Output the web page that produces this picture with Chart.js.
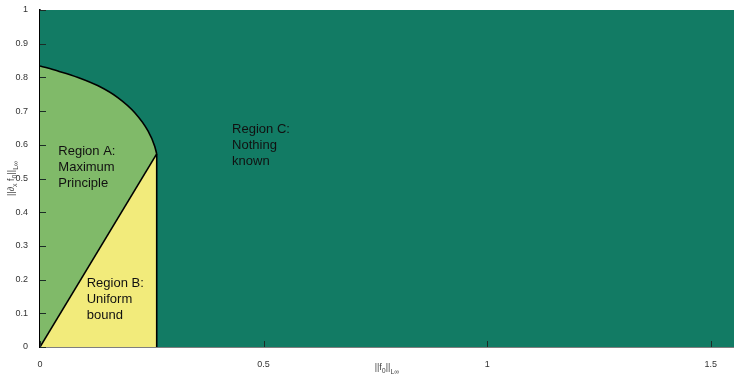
<!DOCTYPE html>
<html>
<head>
<meta charset="utf-8">
<script src="https://cdn.jsdelivr.net/npm/chart.js@4.4.1/dist/chart.umd.min.js"></script>
<style>
  html, body { margin: 0; padding: 0; background: #fff; }
  #wrap { width: 734px; height: 374px; }
</style>
</head>
<body>
<div id="wrap"><canvas id="regions"></canvas></div>
<script>
// axis limits
const xMax = 1.552;
const yMax = 1;

// region A upper boundary (maximum principle curve)
const curveX = [0, 0.04, 0.085, 0.13, 0.174, 0.212, 0.2415, 0.2565, 0.261];
const curveY = [0.834, 0.819, 0.80, 0.775, 0.74, 0.695, 0.641, 0.596, 0.573];

// region B upper boundary (uniform bound line)
const lineX = [0, 0.261];
const lineY = [0, 0.573];

// vertical edge of region B
const edgeX = [0.261, 0.261];
const edgeY = [0, 0.573];

const xTicks = [0, 0.5, 1, 1.5];
const yTicks = [0, 0.1, 0.2, 0.3, 0.4, 0.5, 0.6, 0.7, 0.8, 0.9, 1];

const regionLabels = [
    { x: 0.041, y: 0.569, lines: ['Region A:', 'Maximum', 'Principle'] },
    { x: 0.1045, y: 0.179, lines: ['Region B:', 'Uniform', 'bound'] },
    { x: 0.4296, y: 0.635, lines: ['Region C:', 'Nothing', 'known'] }
];

const toPts = (xs, ys) => xs.map((x, i) => ({ x: x, y: ys[i] }));

// text with subscripts: parts = [[text, shift]]
function drawParts(ctx, parts, x, y, size) {
    let w = 0;
    parts.forEach(p => {
        ctx.font = (p[1] ? size - 2 : size) + 'px "Liberation Sans", Arial, sans-serif';
        w += ctx.measureText(p[0]).width;
    });
    let cx = x - w / 2;
    parts.forEach(p => {
        ctx.font = (p[1] ? size - 2 : size) + 'px "Liberation Sans", Arial, sans-serif';
        ctx.fillText(p[0], cx, y + p[1]);
        cx += ctx.measureText(p[0]).width;
    });
}

const extras = {
    id: 'extras',
    afterDraw(chart) {
        const ctx = chart.ctx;
        const xs = chart.scales.x, ys = chart.scales.y;
        const area = chart.chartArea;
        ctx.save();

        // inside tick marks
        ctx.strokeStyle = '#1c2b26';
        ctx.lineWidth = 1;
        ctx.beginPath();
        yTicks.forEach(t => {
            const py = Math.round(ys.getPixelForValue(t)) + 0.5;
            ctx.moveTo(area.left, py);
            ctx.lineTo(area.left + 6, py);
        });
        xTicks.forEach(t => {
            const px = Math.round(xs.getPixelForValue(t)) + 0.5;
            ctx.moveTo(px, area.bottom);
            ctx.lineTo(px, area.bottom - 6);
        });
        ctx.stroke();

        // region labels
        ctx.fillStyle = '#111';
        ctx.textBaseline = 'alphabetic';
        ctx.textAlign = 'left';
        ctx.font = '13px "Liberation Sans", Arial, sans-serif';
        regionLabels.forEach(r => {
            const px = xs.getPixelForValue(r.x);
            const py = ys.getPixelForValue(r.y);
            r.lines.forEach((s, i) => ctx.fillText(s, px, py + i * 16));
        });

        // axis titles
        ctx.fillStyle = '#444';
        drawParts(ctx, [['||f', 0], ['0', 3], ['||', 0], ['L\u221E', 4]], (area.left + area.right) / 2, 370, 9);
        ctx.translate(14, (area.top + area.bottom) / 2);
        ctx.rotate(-Math.PI / 2);
        drawParts(ctx, [['||\u2202', 0], ['x', 3], [' f', 0], ['0', 3], ['||', 0], ['L\u221E', 4]], 0, 0, 9);
        ctx.restore();
    }
};

new Chart(document.getElementById('regions'), {
    type: 'scatter',
    data: {
        datasets: [{
            // region C: everything
            data: [{ x: 0, y: yMax }, { x: xMax, y: yMax }],
            order: 4,
            showLine: true,
            borderWidth: 0,
            backgroundColor: '#127b64',
            fill: 'origin',
            pointRadius: 0
        }, {
            data: toPts(curveX, curveY),
            order: 3,
            showLine: true,
            cubicInterpolationMode: 'monotone',
            borderColor: '#000',
            borderWidth: 1.6,
            backgroundColor: '#80ba69',
            fill: 'origin',
            pointRadius: 0
        }, {
            data: toPts(lineX, lineY),
            order: 2,
            showLine: true,
            borderColor: '#000',
            borderWidth: 1.6,
            backgroundColor: '#f2eb7b',
            fill: 'origin',
            pointRadius: 0
        }, {
            data: toPts(edgeX, edgeY),
            order: 1,
            showLine: true,
            borderColor: '#000',
            borderWidth: 1.6,
            fill: false,
            pointRadius: 0
        }]
    },
    options: {
        responsive: true,
        maintainAspectRatio: false,
        animation: false,
        layout: { padding: { top: 10, right: 0, left: 0, bottom: 0 } },
        plugins: {
            legend: { display: false },
            tooltip: { enabled: false }
        },
        scales: {
            x: {
                type: 'linear',
                min: 0,
                max: xMax,
                z: 1,
                afterFit: s => { s.height = 27; },
                afterBuildTicks: s => { s.ticks = xTicks.map(v => ({ value: v })); },
                grid: { display: false },
                border: { display: true, color: '#000', width: 1.6 },
                ticks: {
                    padding: 4,
                    color: '#333',
                    callback: v => String(v),
                    font: { size: 9, family: '"Liberation Sans", Arial, sans-serif' }
                }
            },
            y: {
                min: 0,
                max: yMax,
                z: 1,
                afterFit: s => { s.width = 40; },
                afterBuildTicks: s => { s.ticks = yTicks.map(v => ({ value: v })); },
                grid: { display: false },
                border: { display: true, color: '#000', width: 1.6 },
                ticks: {
                    padding: 4,
                    color: '#333',
                    callback: v => String(v),
                    font: { size: 9, family: '"Liberation Sans", Arial, sans-serif' }
                }
            }
        }
    },
    plugins: [extras]
});
</script>
</body>
</html>
